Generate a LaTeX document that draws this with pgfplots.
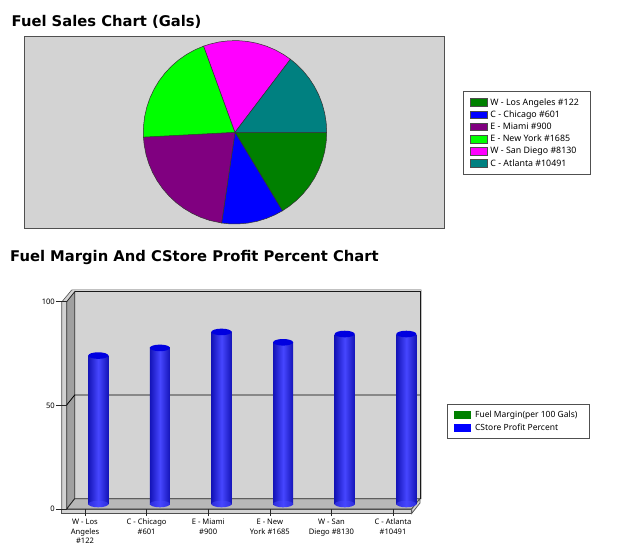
\documentclass[border=0pt]{standalone}
\usepackage{pgfplots}
\usepackage{fontspec}
\pgfplotsset{compat=1.18}
\setmainfont{Noto Sans}
\newfontfamily\titlefont{DejaVu Sans}
\definecolor{panel}{HTML}{D3D3D3}
\definecolor{sidewall}{HTML}{A0A0A0}
\definecolor{floorc}{HTML}{B8B8B8}
\definecolor{frame}{HTML}{505050}
\definecolor{sGreen}{HTML}{008000}
\definecolor{sBlue}{HTML}{0000FF}
\definecolor{sPurple}{HTML}{800080}
\definecolor{sLime}{HTML}{00FF00}
\definecolor{sMagenta}{HTML}{FF00FF}
\definecolor{sTeal}{HTML}{008080}
\definecolor{cylEdge}{HTML}{1414B8}
\definecolor{cylMid}{HTML}{4646FF}
\definecolor{cylCap}{HTML}{0000E0}
\pgfdeclarehorizontalshading{cylsh}{100bp}{color(0bp)=(cylEdge);color(50bp)=(cylMid);color(100bp)=(cylEdge)}
\pgfdeclareplotmark{cyl}{%
  \pgfpathellipse{\pgfpointorigin}{\pgfqpoint{10pt}{0pt}}{\pgfqpoint{0pt}{3.3pt}}%
  \pgfusepathqfill}
\pgfdeclareplotmark{cylbase}{%
  \pgfpathellipse{\pgfpointorigin}{\pgfqpoint{10pt}{0pt}}{\pgfqpoint{0pt}{3.3pt}}%
  \pgfshadepath{cylsh}{0}\pgfusepath{discard}}
\newcommand\pieentry[1]{\hspace*{2.6pt}#1\hspace*{4.4pt}}
\newcommand\barentry[1]{\hspace*{4pt}#1\hspace*{5.3pt}}
\pgfplotsset{cylbar/.style={ybar,bar width=20pt,draw=none,left color=cylEdge,right color=cylEdge,middle color=cylMid,forget plot}}
\begin{document}
\begin{tikzpicture}
\path (0pt,0pt) rectangle (628pt,550pt);
\node[anchor=base west,inner sep=0pt,font=\titlefont\bfseries\fontsize{14.75}{18}\selectfont] at (11.5pt,523.5pt) {Fuel Sales Chart (Gals)};
\node[anchor=base west,inner sep=0pt,font=\titlefont\bfseries\fontsize{14.75}{18}\selectfont] at (10pt,289pt) {Fuel Margin And CStore Profit Percent Chart};
% pie
\begin{axis}[
  at={(24pt,321.7pt)},anchor=south west,scale only axis,
  width=420pt,height=191.6pt,
  xmin=-211,xmax=209,ymin=-96,ymax=95.6,
  xtick=\empty,ytick=\empty,
  axis background/.style={fill=panel},
  axis line style={draw=frame,line width=0.8pt},
  legend image code/.code={\draw[#1,draw=black!70,line width=0.7pt] (0pt,-3.8pt) rectangle (16.7pt,3.8pt);},
  legend cell align=left,
  legend style={at={(1.0445,0.7166)},anchor=north west,draw=frame,line width=0.8pt,fill=white,
    font=\fontsize{8.85}{10}\selectfont,inner xsep=7.3pt,inner ysep=5pt,
    nodes={inner sep=0pt,minimum height=12.2pt,anchor=west},row sep=0pt},
]
\addplot[data cs=polar,fill=sGreen,draw=black!80,line width=0.5pt] coordinates {(0,0)(301.1,91.7)(306,91.7)(312,91.7)(318,91.7)(324,91.7)(330,91.7)(336,91.7)(342,91.7)(348,91.7)(354,91.7)(360,91.7)} -- cycle;
\addlegendentry{\pieentry{W - Los Angeles \#122}}
\addplot[data cs=polar,fill=sBlue,draw=black!80,line width=0.5pt] coordinates {(0,0)(261.6,91.7)(266,91.7)(272,91.7)(278,91.7)(284,91.7)(290,91.7)(296,91.7)(301.1,91.7)} -- cycle;
\addlegendentry{\pieentry{C - Chicago \#601}}
\addplot[data cs=polar,fill=sPurple,draw=black!80,line width=0.5pt] coordinates {(0,0)(183,91.7)(188,91.7)(194,91.7)(200,91.7)(206,91.7)(212,91.7)(218,91.7)(224,91.7)(230,91.7)(236,91.7)(242,91.7)(248,91.7)(254,91.7)(261.6,91.7)} -- cycle;
\addlegendentry{\pieentry{E - Miami \#900}}
\addplot[data cs=polar,fill=sLime,draw=black!80,line width=0.5pt] coordinates {(0,0)(110,91.7)(116,91.7)(122,91.7)(128,91.7)(134,91.7)(140,91.7)(146,91.7)(152,91.7)(158,91.7)(164,91.7)(170,91.7)(176,91.7)(183,91.7)} -- cycle;
\addlegendentry{\pieentry{E - New York \#1685}}
\addplot[data cs=polar,fill=sMagenta,draw=black!80,line width=0.5pt] coordinates {(0,0)(52.8,91.7)(58,91.7)(64,91.7)(70,91.7)(76,91.7)(82,91.7)(88,91.7)(94,91.7)(100,91.7)(106,91.7)(110,91.7)} -- cycle;
\addlegendentry{\pieentry{W - San Diego \#8130}}
\addplot[data cs=polar,fill=sTeal,draw=black!80,line width=0.5pt] coordinates {(0,0)(0,91.7)(6,91.7)(12,91.7)(18,91.7)(24,91.7)(30,91.7)(36,91.7)(42,91.7)(48,91.7)(52.8,91.7)} -- cycle;
\addlegendentry{\pieentry{C - Atlanta \#10491}}
\end{axis}
% 3D walls in pixel coordinates
\begin{scope}[x=1pt,y=-1pt,yshift=550pt]
\fill[panel] (61.7,302)--(71.7,290)--(74.7,291.7)--(66.7,301.7)--(66.7,513.5)--(61.7,513.5)--cycle;
\draw[frame,line width=0.6pt] (61.7,513.5)--(61.7,302)--(71.7,290)--(421,290)--(421,499);
\fill[panel] (71.7,290)--(421,290)--(421,291.7)--(74.7,291.7)--cycle;
\fill[panel] (74.7,291.7) rectangle (420,498.7);
\draw[fill=sidewall,draw=black!85,line width=0.8pt] (66.7,301.7)--(74.7,291.7)--(74.7,498.7)--(66.7,509)--cycle;
\draw[fill=floorc,draw=black!85,line width=0.8pt] (66.7,509)--(74.7,498.7)--(420,498.7)--(411.7,509)--cycle;
\draw[fill=panel,draw=frame,line width=0.7pt] (61.7,509) rectangle (411.7,513.5);
\draw[fill=panel,draw=frame,line width=0.7pt] (411.7,509)--(420,498.7)--(420,503)--(411.7,513.5)--cycle;
\draw[black!90,line width=1pt] (74.7,291.4)--(420,291.4)--(420,498.7);
\draw[black,line width=0.8pt] (66.7,405)--(74.7,395)--(420,395);
\end{scope}
% front plane: y ticks and labels
\begin{axis}[
  at={(66.7pt,41pt)},anchor=south west,scale only axis,
  width=345pt,height=207.3pt,
  xmin=-0.297,xmax=5.303,ymin=0,ymax=100,
  axis x line=none,axis y line=left,
  axis line style={draw=none,-},
  ytick={0,50,100},
  tick align=outside,
  major tick length=10.7pt,
  y tick style={black!85,line width=0.6pt},
  yticklabel style={font=\fontsize{7.6}{9.9}\selectfont,inner xsep=1pt},
  /pgf/number format/assume math mode=true,
]
\addplot[draw=none,forget plot] coordinates {(0,0)};
\end{axis}
% front plane: x ticks and labels
\begin{axis}[
  at={(66.7pt,41pt)},anchor=south west,scale only axis,
  width=345pt,height=207.3pt,
  xmin=-0.297,xmax=5.303,ymin=0,ymax=100,
  axis x line=bottom,axis y line=none,
  axis line style={draw=none,-},
  xtick={0,1,2,3,4,5},
  xticklabels={{W - Los\\Angeles\\\#122},{C - Chicago\\\#601},{E - Miami\\\#900},{E - New\\York \#1685},{W - San\\Diego \#8130},{C - Atlanta\\\#10491}},
  tick align=outside,
  major tick length=7pt,
  x tick style={black!85,line width=0.6pt},
  xticklabel style={align=center,font=\fontsize{7.6}{9.9}\selectfont,inner xsep=0pt,inner ysep=0pt,yshift=-2.5pt},
]
\addplot[draw=none,forget plot] coordinates {(0,0)};
\end{axis}
% cylinders
\begin{axis}[
  at={(80pt,46pt)},anchor=south west,scale only axis,
  width=345pt,height=207.3pt,
  xmin=-0.297,xmax=5.303,ymin=0,ymax=100,
  hide axis,clip=false,
  legend image code/.code={\path[#1,draw=none] (0pt,-4pt) rectangle (16.7pt,4pt);},
  legend cell align=left,
  legend style={at={(1.0646,0.482)},anchor=north west,draw=frame,line width=0.8pt,fill=white,
    font=\fontsize{8.5}{10}\selectfont,inner xsep=6.7pt,inner ysep=4.75pt,
    nodes={inner sep=0pt,minimum height=12.4pt,anchor=west},row sep=0pt},
]
\addlegendimage{fill=sGreen}\addlegendentry{\barentry{Fuel Margin(per 100 Gals)}}
\addlegendimage{fill=sBlue}\addlegendentry{\barentry{CStore Profit Percent}}
\addplot[only marks,mark=cylbase,forget plot] coordinates {(0,0)(1,0)(2,0)(3,0)(4,0)(5,0)};
\addplot[cylbar] coordinates {(0,71.6)};
\addplot[cylbar] coordinates {(1,75.3)};
\addplot[cylbar] coordinates {(2,83)};
\addplot[cylbar] coordinates {(3,78)};
\addplot[cylbar] coordinates {(4,82)};
\addplot[cylbar] coordinates {(5,82)};
\addplot[only marks,mark=cyl,color=cylCap,forget plot] coordinates {(0,71.6)(1,75.3)(2,83)(3,78)(4,82)(5,82)};
\end{axis}
\end{tikzpicture}
\end{document}
